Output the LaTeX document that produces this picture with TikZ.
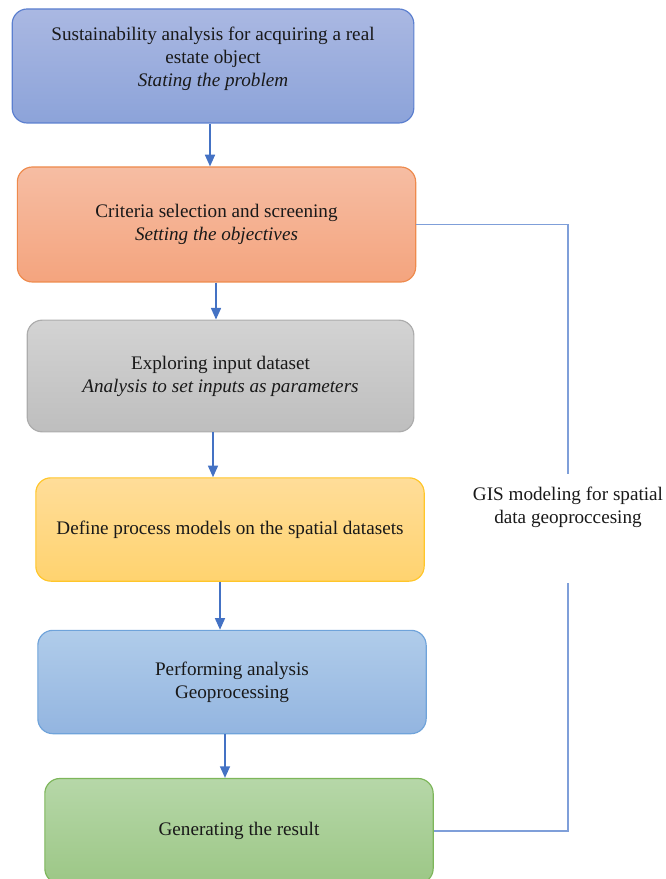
\documentclass[tikz,border=0pt]{standalone}
\usepackage{fontspec}
\setmainfont{Liberation Serif}
\usetikzlibrary{positioning,calc,arrows.meta}

\definecolor{flowblue}{HTML}{4472C4}
\definecolor{linkblue}{HTML}{7F9FD9}
\definecolor{sustline}{HTML}{5B7FCF}
\definecolor{critline}{HTML}{EE8A4C}
\definecolor{explline}{HTML}{ACACAC}
\definecolor{procline}{HTML}{FFC629}
\definecolor{perfline}{HTML}{6FA3DA}
\definecolor{resline}{HTML}{7DB65A}

\begin{document}
\begin{tikzpicture}[x=0.6pt,y=-0.6pt,
    stage/.style={draw,rounded corners=9pt,line width=0.7pt,align=center,
        font=\fontsize{11.5}{13.8}\selectfont,text=black!90},
    flow/.style={draw=flowblue,line width=1pt,-{Triangle[length=7pt,width=6pt]}},
    link/.style={draw=linkblue,line width=1pt}]
    \clip (0,0) rectangle (665,879);

    % stages
    \node[stage,draw=sustline,minimum width=241pt,minimum height=68.4pt,
        top color={rgb,255:red,170;green,184;blue,226},
        bottom color={rgb,255:red,140;green,163;blue,217}] at (213,66) (sust)
        {Sustainability analysis for acquiring a real\\ estate object\\
         \textit{Stating the problem}\\[-3pt]\mbox{}};
    \node[stage,draw=critline,minimum width=239pt,minimum height=69pt,
        top color={rgb,255:red,246;green,189;blue,163},
        bottom color={rgb,255:red,244;green,164;blue,126}] at (216.5,224.5) (crit)
        {Criteria selection and screening\\ \textit{Setting the objectives}};
    \node[stage,draw=explline,minimum width=232pt,minimum height=67pt,
        top color={rgb,255:red,211;green,211;blue,211},
        bottom color={rgb,255:red,190;green,190;blue,190}] at (220.5,376) (expl)
        {Exploring input dataset\\ \textit{Analysis to set inputs as parameters}};
    \node[stage,draw=procline,minimum width=233pt,minimum height=62pt,
        top color={rgb,255:red,255;green,221;blue,153},
        bottom color={rgb,255:red,255;green,211;blue,111}] at (230,529.5) (proc)
        {Define process models on the spatial datasets};
    \node[stage,draw=perfline,minimum width=233pt,minimum height=62pt,
        top color={rgb,255:red,176;green,204;blue,234},
        bottom color={rgb,255:red,147;green,181;blue,224}] at (232,682) (perf)
        {Performing analysis\\ Geoprocessing};
    \node[stage,draw=resline,minimum width=233pt,minimum height=63pt,
        top color={rgb,255:red,182;green,215;blue,168},
        bottom color={rgb,255:red,156;green,199;blue,134}] at (239,831) (res)
        {Generating the result};

    % side note
    \node[align=center,font=\fontsize{11.5}{13.8}\selectfont,text=black!90]
        at (568,507) (gis) {GIS modeling for spatial\\ data geoproccesing};
    \coordinate (gtop) at (568,474);
    \coordinate (gbot) at (568,583);

    % connections
    \foreach \a/\b/\x in {sust/crit/210,crit/expl/216,expl/proc/213,proc/perf/220,perf/res/225}
        \draw[flow] (\a.south -| \x,0) -- (\b.north -| \x,0);
    \draw[link] (crit.east) -| (gtop);
    \draw[link] (gbot) |- (res.east);
\end{tikzpicture}
\end{document}
